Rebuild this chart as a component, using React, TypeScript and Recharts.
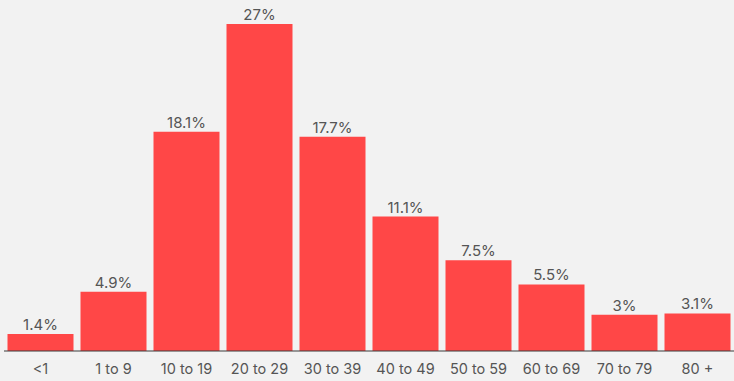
import { Bar, BarChart, LabelList, XAxis, YAxis } from "recharts";

const ageGroups = ["<1", "1 to 9", "10 to 19", "20 to 29", "30 to 39", "40 to 49", "50 to 59", "60 to 69", "70 to 79", "80 +"];
const shares = [1.4, 4.9, 18.1, 27, 17.7, 11.1, 7.5, 5.5, 3, 3.1];

const data = ageGroups.map((group, i) => ({ group, share: shares[i] }));

export default function App() {
  return (
    <div
      style={{
        position: "fixed",
        top: 0,
        left: 0,
        width: 734,
        height: 381,
        background: "#f2f2f2",
        fontFamily: "Inter, 'Noto Sans', sans-serif",
      }}
    >
      <BarChart
        width={734}
        height={381}
        data={data}
        margin={{ top: 24, right: 0, left: 4, bottom: 0 }}
        barCategoryGap={3.5}
      >
        <XAxis
          dataKey="group"
          height={30}
          tickLine={false}
          axisLine={{ stroke: "#3a3a3a", strokeWidth: 1 }}
          tick={{ fontSize: 14.5, fill: "#555" }}
          tickMargin={7}
        />
        <YAxis hide domain={[0, 27]} />
        <Bar dataKey="share" fill="#ff4747" isAnimationActive={false}>
          <LabelList
            dataKey="share"
            position="top"
            offset={4}
            formatter={(v: number) => `${v}%`}
            style={{ fontSize: 15, fill: "#555" }}
          />
        </Bar>
      </BarChart>
    </div>
  );
}
